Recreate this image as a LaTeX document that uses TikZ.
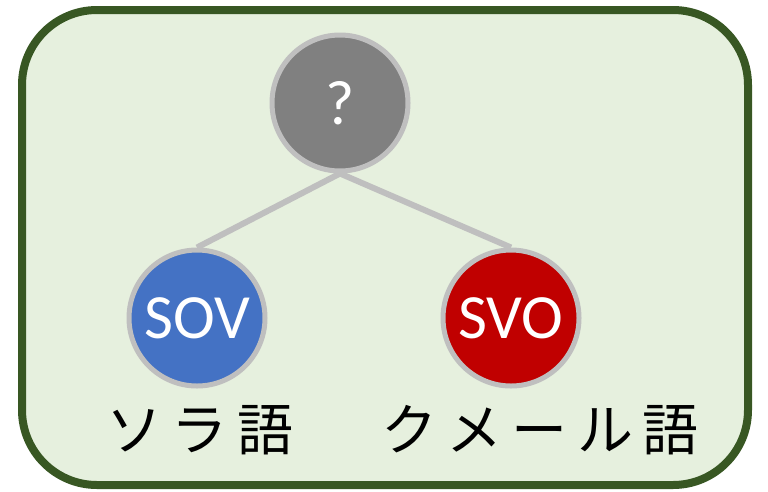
\documentclass[tikz,border=0pt]{standalone}
\usepackage{fontspec}
\usetikzlibrary{backgrounds}
\setmainfont{Carlito}
\newfontfamily\jpfont{Noto Sans CJK JP}
\definecolor{frameGreen}{HTML}{385723}
\definecolor{bgGreen}{HTML}{E6F0DE}
\definecolor{ringGray}{HTML}{BFBFBF}
\definecolor{qGray}{HTML}{808080}
\definecolor{sovBlue}{HTML}{4472C4}
\definecolor{svoRed}{HTML}{C00000}
\begin{document}
\begin{tikzpicture}[x=1pt,y=-1pt,
  tnode/.style={circle, draw=ringGray, line width=5pt, minimum size=136pt, inner sep=0pt, text=white, font=\fontsize{63}{63}\selectfont},
  link/.style={draw=ringGray, line width=6pt},
  jlabel/.style={font=\jpfont\fontsize{56}{56}\selectfont, text=black, inner sep=0pt}]
\useasboundingbox (0,0) rectangle (768,491);
\begin{scope}[on background layer]
\draw[draw=frameGreen, fill=bgGreen, line width=8pt, rounded corners=75pt] (22,10) rectangle (748,485);
\end{scope}
\node[tnode, fill=qGray] (top) at (340,103) {?};
\node[tnode, fill=sovBlue] (sov) at (197,318) {SOV};
\node[tnode, fill=svoRed] (svo) at (511,318) {SVO};
\begin{scope}[on background layer]
\draw[link] (top.south) -- (sov.north);
\draw[link] (top.south) -- (svo.north);
\end{scope}
\node[jlabel] (sora) at (200,430) {ソ\,ラ\,語};
\node[jlabel] (khmer) at (540,430) {ク\,メ\,ー\,ル\,語};
\end{tikzpicture}
\end{document}
